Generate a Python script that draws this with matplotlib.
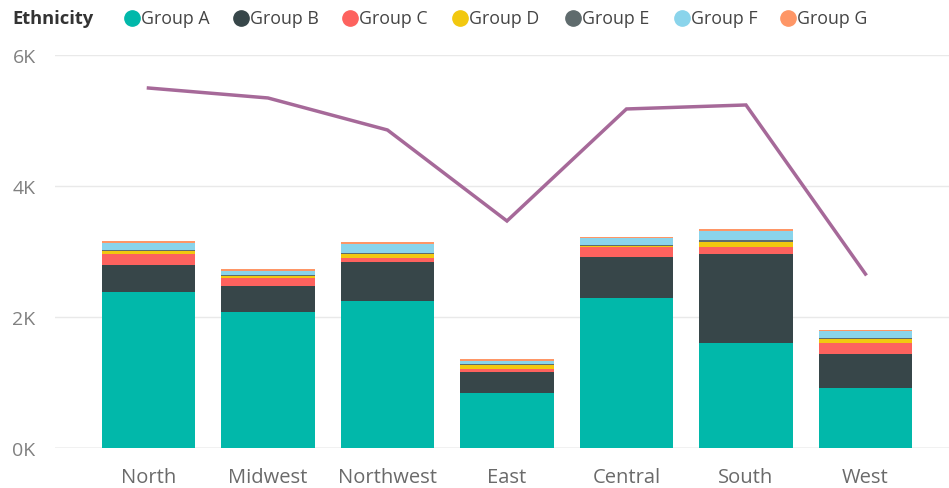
import numpy as np
import matplotlib.pyplot as plt

plt.rcParams['font.family'] = ['Open Sans', 'DejaVu Sans']

regions = ['North', 'Midwest', 'Northwest', 'East', 'Central', 'South', 'West']
groups = ['Group A', 'Group B', 'Group C', 'Group D', 'Group E', 'Group F', 'Group G']

group_a = [2377, 2072, 2240, 840, 2290, 1603, 916]
group_b = [417, 406, 595, 316, 621, 1359, 514]
group_c = [168, 117, 61, 50, 153, 111, 168]
group_d = [46, 36, 66, 61, 25, 77, 66]
group_e = [20, 15, 15, 20, 10, 21, 11]
group_f = [107, 52, 138, 46, 102, 147, 106]
group_g = [26, 30, 25, 26, 20, 26, 25]
line_total = [5496, 5344, 4855, 3466, 5176, 5237, 2656]

colors = ['#01B8AA', '#374649', '#FD625E', '#F2C80F', '#5F6B6D', '#8AD4EB', '#FE9666']
series = [group_a, group_b, group_c, group_d, group_e, group_f, group_g]

W, H = 949, 489
fig = plt.figure(figsize=(W / 100, H / 100), dpi=100)
ax = fig.add_axes([55 / W, (H - 449) / H, (W - 55) / W, 393 / H])

x = np.arange(len(regions))
bottom = np.zeros(len(regions))
for vals, col, name in zip(series, colors, groups):
    ax.bar(x, vals, width=0.78, bottom=bottom, color=col, label=name, zorder=2)
    bottom += np.array(vals)

ax.plot(x, line_total, color='#A66999', lw=2.5, zorder=3, solid_joinstyle='miter')

ax.set_xlim(-0.782, 6.699)
ax.set_ylim(0, 6000)
ax.set_yticks([0, 2000, 4000, 6000])
ax.set_yticklabels(['0K', '2K', '4K', '6K'])
ax.set_xticks(x)
ax.set_xticklabels(regions)
ax.grid(axis='y', color='#E9E9E9', lw=1, zorder=0)
ax.tick_params(axis='y', length=0, pad=14, labelsize=14, labelcolor='#808080')
ax.tick_params(axis='x', length=0, pad=14, labelsize=14.5, labelcolor='#6a6a6a')
for s in ax.spines.values():
    s.set_visible(False)
ax.axhline(0, color='#C8C8C8', lw=1, zorder=1)

# legend row on top
fig.text(12 / W, 1 - 19 / H, 'Ethnicity', fontsize=13.2, fontweight='bold',
         color='#333333', va='center', ha='left')
marker_x = [132, 241, 350, 460, 573, 682, 788]
for mx, col, name in zip(marker_x, colors, groups):
    fig.add_artist(plt.Line2D([mx / W], [1 - 19 / H], marker='o', markersize=11,
                              color=col, linestyle='none', transform=fig.transFigure))
    fig.text((mx + 9) / W, 1 - 19 / H, name, fontsize=12.8, color='#444444',
             va='center', ha='left')

fig.savefig('out.png', dpi=100)
